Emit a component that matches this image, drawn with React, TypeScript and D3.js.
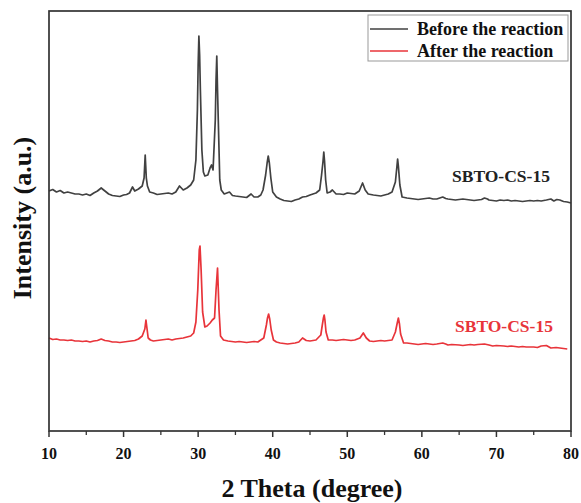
import React from "react";
import * as d3 from "d3";

// ---- Data ----
const xTicks = [10, 20, 30, 40, 50, 60, 70, 80];
const xMinorTicks = [15, 25, 35, 45, 55, 65, 75];

const beforeAngles = [
  10, 10.5, 11, 11.5, 12, 12.5, 13, 13.5, 14, 14.5, 15, 15.5, 16, 16.5, 17, 17.5, 18, 18.5, 19, 19.5, 20, 20.4, 20.8, 21.2, 21.5, 22, 22.5, 22.75, 22.9, 23.05, 23.2, 23.5, 24, 24.5, 25, 25.5, 26, 26.5, 27, 27.5, 28, 28.5, 29, 29.4, 29.7, 29.9, 30.0, 30.1, 30.2, 30.3, 30.5, 30.7, 30.9, 31.3, 31.6, 31.8, 32.0, 32.3, 32.4, 32.5, 32.6, 32.7, 32.9, 33.1, 33.5, 34.2, 34.6, 35, 35.5, 36, 36.5, 37.1, 37.5, 38, 38.4, 38.7, 39.05, 39.25, 39.4, 39.55, 39.75, 40, 40.5, 41, 41.5, 42, 42.5, 43, 43.5, 44, 44.5, 45, 45.4, 45.8, 46.3, 46.55, 46.75, 46.85, 46.95, 47.1, 47.3, 47.7, 48, 48.5, 49, 49.5, 50, 50.5, 51, 51.6, 52.05, 52.4, 52.8, 53.5, 54, 54.5, 55, 55.5, 56.0, 56.45, 56.65, 56.75, 56.85, 57.05, 57.35, 58, 58.5, 59, 59.5, 60, 60.5, 61, 61.5, 62, 62.4, 62.8, 63.2, 63.5, 64, 64.5, 65, 65.5, 66, 66.5, 67, 67.5, 68, 68.4, 68.8, 69, 69.5, 70, 70.5, 71, 71.5, 72, 72.5, 73, 73.5, 74, 74.5, 75, 75.5, 76, 76.7, 77.3, 77.7, 78.1, 78.5, 79, 79.5, 80,
];
const beforeIntensity = [
  2440, 2455, 2430, 2445, 2420, 2430, 2420, 2410, 2410, 2400, 2410, 2395, 2420, 2440, 2470, 2440, 2410, 2395, 2390, 2385, 2400, 2405, 2420, 2480, 2440, 2460, 2490, 2570, 2800, 2570, 2490, 2430, 2420, 2405, 2410, 2415, 2420, 2410, 2430, 2490, 2450, 2470, 2500, 2550, 2750, 3250, 3700, 3990, 3800, 3450, 2850, 2630, 2590, 2600, 2670, 2700, 2650, 3150, 3550, 3790, 3450, 3150, 2550, 2450, 2410, 2430, 2395, 2390, 2385, 2380, 2375, 2410, 2380, 2380, 2400, 2450, 2600, 2720, 2790, 2720, 2570, 2430, 2380, 2360, 2345, 2340, 2335, 2350, 2360, 2380, 2385, 2400, 2410, 2420, 2450, 2600, 2740, 2830, 2740, 2550, 2420, 2430, 2450, 2410, 2410, 2405, 2420, 2415, 2410, 2440, 2520, 2450, 2410, 2400, 2395, 2390, 2400, 2410, 2430, 2530, 2680, 2760, 2690, 2500, 2380, 2370, 2365, 2360, 2355, 2360, 2365, 2370, 2360, 2360, 2370, 2380, 2365, 2360, 2355, 2350, 2355, 2360, 2355, 2350, 2345, 2350, 2355, 2370, 2360, 2350, 2345, 2340, 2350, 2345, 2350, 2340, 2345, 2340, 2335, 2340, 2345, 2340, 2345, 2340, 2350, 2360, 2340, 2355, 2350, 2335, 2330, 2320, 2310,
];

const afterAngles = [
  10, 10.5, 11, 11.5, 12, 12.5, 13, 13.5, 14, 14.5, 15, 15.5, 16, 16.5, 17, 17.5, 18, 18.5, 19, 19.5, 20, 20.5, 21, 21.5, 22, 22.5, 22.85, 23.0, 23.15, 23.3, 23.6, 24, 24.5, 25, 25.5, 26, 26.5, 27, 27.5, 28, 28.5, 29, 29.4, 29.7, 29.95, 30.15, 30.25, 30.4, 30.6, 30.9, 31.2, 31.6, 31.9, 32.2, 32.4, 32.6, 32.8, 33.0, 33.4, 34, 34.5, 35, 35.5, 36, 36.5, 37, 37.5, 38, 38.8, 39.15, 39.3, 39.45, 39.6, 39.8, 40.1, 40.5, 41, 41.5, 42, 42.5, 43, 43.5, 44, 44.5, 45, 45.8, 46.45, 46.65, 46.8, 46.9, 47.0, 47.15, 47.45, 48, 48.5, 49, 49.5, 50, 50.5, 51, 51.7, 52.15, 52.55, 53, 53.5, 54, 54.5, 55, 55.5, 56, 56.45, 56.7, 56.85, 57.0, 57.15, 57.55, 58, 58.5, 59, 59.5, 60, 60.5, 61, 61.5, 62, 62.4, 62.8, 63.2, 63.5, 64, 65, 65.5, 66, 66.5, 67, 67.5, 68.4, 69, 69.5, 70, 71, 71.5, 72, 73, 73.5, 74, 75, 75.5, 76, 76.7, 77.3, 78, 78.5, 79, 79.5, 80,
];
const afterIntensity = [
  970, 955, 960, 950, 950, 945, 950, 940, 940, 935, 940, 930, 940, 945, 960, 945, 940, 930, 930, 925, 930, 935, 940, 945, 960, 990, 1060, 1150, 1060, 970, 950, 940, 945, 950, 955, 960, 950, 960, 965, 970, 980, 990, 1020, 1130, 1450, 1850, 1890, 1650, 1230, 1080, 1090, 1120, 1150, 1170, 1450, 1670, 1250, 990, 950, 940, 935, 930, 935, 930, 925, 930, 935, 930, 970, 1100, 1170, 1210, 1160, 1050, 950, 930, 920, 915, 910, 915, 920, 930, 970, 945, 940, 950, 1000, 1100, 1170, 1200, 1150, 1030, 950, 950, 945, 950, 955, 950, 945, 950, 970, 1020, 970, 940, 935, 940, 945, 940, 945, 950, 1030, 1120, 1170, 1110, 1010, 920, 920, 915, 910, 905, 910, 915, 910, 905, 910, 915, 920, 910, 900, 905, 900, 895, 900, 905, 900, 905, 910, 900, 890, 895, 890, 885, 890, 880, 885, 880, 880, 875, 890, 895, 870, 875, 870, 865, 860,
];

const legendLabels = ["Before the reaction", "After the reaction"];
const sampleLabel = "SBTO-CS-15";

// ---- Layout ----
const W = 581;
const H = 503;
const left = 49;
const right = 571;
const top = 11;
const bottom = 431;
const FONT = "'Liberation Serif', 'Times New Roman', serif";
const BLACK = "#414141";
const RED = "#e8343a";

export default function App() {
  const x = d3.scaleLinear().domain([10, 80]).range([left, right]);
  const y = d3.scaleLinear().domain([40, 4240]).range([bottom, top]);

  const lineGen = d3
    .line<[number, number]>()
    .x((d) => x(d[0]))
    .y((d) => y(d[1]));

  const beforeData = beforeAngles.map((a, i) => [a, beforeIntensity[i]] as [number, number]);
  const afterData = afterAngles.map((a, i) => [a, afterIntensity[i]] as [number, number]);

  return (
    <svg
      width={W}
      height={H}
      style={{ position: "absolute", left: 0, top: 0, background: "#fff" }}
      fontFamily={FONT}
    >
      <rect x={0} y={0} width={W} height={H} fill="#fff" />
      <path d={lineGen(beforeData) || ""} fill="none" stroke={BLACK} strokeWidth={1.7} strokeLinejoin="round" />
      <path d={lineGen(afterData) || ""} fill="none" stroke={RED} strokeWidth={1.7} strokeLinejoin="round" />

      {/* frame */}
      <rect x={left} y={top} width={right - left} height={bottom - top} fill="none" stroke="#333" strokeWidth={1.7} />

      {/* x ticks */}
      {xTicks.map((t) => (
        <g key={"t" + t}>
          <line x1={x(t)} x2={x(t)} y1={bottom} y2={bottom + 6} stroke="#333" strokeWidth={1.5} />
          <text x={x(t)} y={458.5} textAnchor="middle" fontSize={16} fontWeight="bold" fill="#111">
            {t}
          </text>
        </g>
      ))}
      {xMinorTicks.map((t) => (
        <line key={"m" + t} x1={x(t)} x2={x(t)} y1={bottom} y2={bottom + 4} stroke="#333" strokeWidth={1.3} />
      ))}

      {/* axis titles */}
      <text x={312} y={497} textAnchor="middle" fontSize={26} fontWeight="bold" fill="#111">
        2 Theta (degree)
      </text>
      <text
        transform={`translate(31, 218) rotate(-90)`}
        textAnchor="middle"
        fontSize={26}
        fontWeight="bold"
        fill="#111"
      >
        Intensity (a.u.)
      </text>

      {/* series labels */}
      <text x={452} y={182} fontSize={17.5} fontWeight="bold" fill="#222">
        {sampleLabel}
      </text>
      <text x={455} y={332} fontSize={17.5} fontWeight="bold" fill={RED}>
        {sampleLabel}
      </text>

      {/* legend */}
      <g>
        <rect x={368} y={15} width={200} height={46} fill="#fff" stroke="#999" strokeWidth={1} />
        <line x1={370} x2={408} y1={29} y2={29} stroke={BLACK} strokeWidth={1.7} />
        <line x1={370} x2={408} y1={51} y2={51} stroke={RED} strokeWidth={1.7} />
        <text x={417} y={35} fontSize={18} fontWeight="bold" fill="#111">
          {legendLabels[0]}
        </text>
        <text x={417} y={57} fontSize={18} fontWeight="bold" fill="#111">
          {legendLabels[1]}
        </text>
      </g>
    </svg>
  );
}
